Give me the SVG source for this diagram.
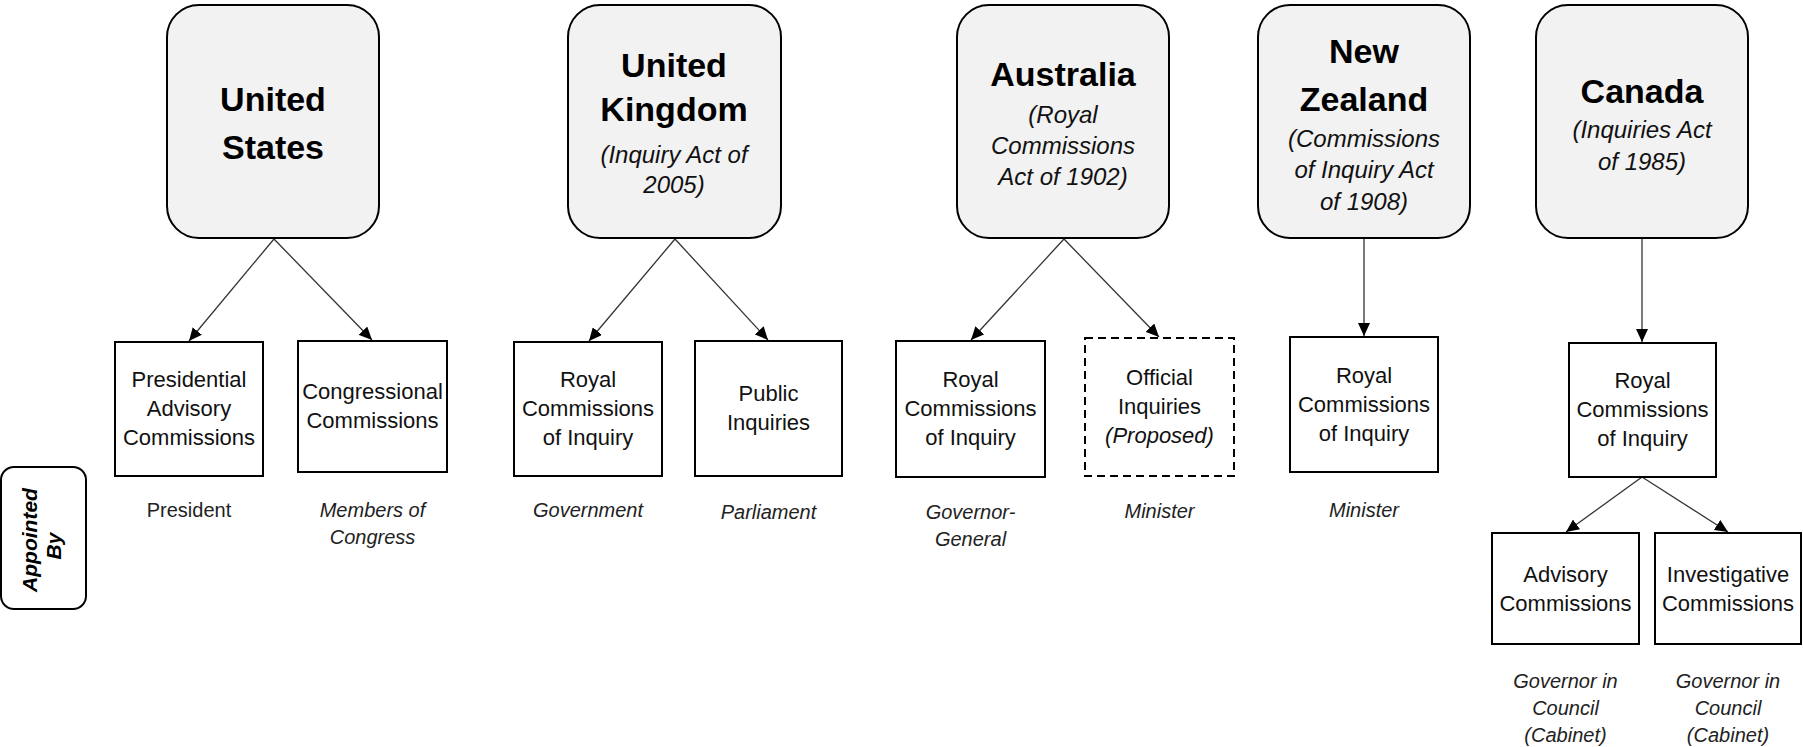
<svg xmlns="http://www.w3.org/2000/svg" width="1803" height="747" viewBox="0 0 1803 747">
<defs>
<style>
text{font-family:"Liberation Sans",Arial,sans-serif;text-anchor:middle;}
.head{fill:#f2f2f2;stroke:#000;stroke-width:2;}
.box{fill:#fff;stroke:#000;stroke-width:2;}
.dash{fill:#fff;stroke:#000;stroke-width:2;stroke-dasharray:8 5;}
.t1{font-size:34px;font-weight:bold;fill:#000;}
.t2{font-size:24px;font-style:italic;fill:#111;}
.t3{font-size:22px;fill:#111;}
.t4{font-size:20px;fill:#222;}
.it{font-style:italic;}
.conn{stroke:#333;stroke-width:1.3;fill:none;marker-end:url(#ah);}
</style>
<marker id="ah" markerWidth="14" markerHeight="12" refX="13" refY="6" orient="auto" markerUnits="userSpaceOnUse">
<path d="M0,0 L13,6 L0,12 Z" fill="#000"/>
</marker>
</defs>
<rect width="1803" height="747" fill="#fff"/>

<g id="connectors">
<line class="conn" x1="274" y1="239" x2="189" y2="341"/>
<line class="conn" x1="274" y1="239" x2="372" y2="340"/>
<line class="conn" x1="675" y1="239" x2="589" y2="341"/>
<line class="conn" x1="675" y1="239" x2="768" y2="340"/>
<line class="conn" x1="1064" y1="239" x2="971" y2="340"/>
<line class="conn" x1="1064" y1="239" x2="1159" y2="337"/>
<line class="conn" x1="1364" y1="239" x2="1364" y2="336"/>
<line class="conn" x1="1642" y1="239" x2="1642" y2="342"/>
<line class="conn" x1="1642" y1="477" x2="1566" y2="532"/>
<line class="conn" x1="1642" y1="477" x2="1728" y2="532"/>
</g>

<g id="us">
<rect class="head" x="167" y="5" width="212" height="233" rx="32"/>
<text class="t1" x="273" y="111">United</text>
<text class="t1" x="273" y="159">States</text>
</g>
<g id="uk">
<rect class="head" x="568" y="5" width="213" height="233" rx="32"/>
<text class="t1" x="674" y="77">United</text>
<text class="t1" x="674" y="121">Kingdom</text>
<text class="t2" x="674" y="163">(Inquiry Act of</text>
<text class="t2" x="674" y="193">2005)</text>
</g>
<g id="australia">
<rect class="head" x="957" y="5" width="212" height="233" rx="32"/>
<text class="t1" x="1063" y="86">Australia</text>
<text class="t2" x="1063" y="123">(Royal</text>
<text class="t2" x="1063" y="154">Commissions</text>
<text class="t2" x="1063" y="185">Act of 1902)</text>
</g>
<g id="newzealand">
<rect class="head" x="1258" y="5" width="212" height="233" rx="32"/>
<text class="t1" x="1364" y="63">New</text>
<text class="t1" x="1364" y="111">Zealand</text>
<text class="t2" x="1364" y="147">(Commissions</text>
<text class="t2" x="1364" y="178">of Inquiry Act</text>
<text class="t2" x="1364" y="210">of 1908)</text>
</g>
<g id="canada">
<rect class="head" x="1536" y="5" width="212" height="233" rx="32"/>
<text class="t1" x="1642" y="103">Canada</text>
<text class="t2" x="1642" y="138">(Inquiries Act</text>
<text class="t2" x="1642" y="170">of 1985)</text>
</g>

<g id="us-presidential">
<rect class="box" x="115" y="342" width="148" height="134"/>
<text class="t3" x="189" y="387">Presidential</text>
<text class="t3" x="189" y="416">Advisory</text>
<text class="t3" x="189" y="445">Commissions</text>
</g>
<g id="us-congressional">
<rect class="box" x="298" y="341" width="149" height="131"/>
<text class="t3" x="372.5" y="399">Congressional</text>
<text class="t3" x="372.5" y="428">Commissions</text>
</g>
<g id="uk-royal">
<rect class="box" x="514" y="342" width="148" height="134"/>
<text class="t3" x="588" y="387">Royal</text>
<text class="t3" x="588" y="416">Commissions</text>
<text class="t3" x="588" y="445">of Inquiry</text>
</g>
<g id="uk-public">
<rect class="box" x="695" y="341" width="147" height="135"/>
<text class="t3" x="768.5" y="401">Public</text>
<text class="t3" x="768.5" y="430">Inquiries</text>
</g>
<g id="au-royal">
<rect class="box" x="896" y="341" width="149" height="136"/>
<text class="t3" x="970.5" y="387">Royal</text>
<text class="t3" x="970.5" y="416">Commissions</text>
<text class="t3" x="970.5" y="445">of Inquiry</text>
</g>
<g id="au-official">
<rect class="dash" x="1085" y="338" width="149" height="138"/>
<text class="t3" x="1159.5" y="385">Official</text>
<text class="t3" x="1159.5" y="414">Inquiries</text>
<text class="t3 it" x="1159.5" y="443">(Proposed)</text>
</g>
<g id="nz-royal">
<rect class="box" x="1290" y="337" width="148" height="135"/>
<text class="t3" x="1364" y="383">Royal</text>
<text class="t3" x="1364" y="412">Commissions</text>
<text class="t3" x="1364" y="441">of Inquiry</text>
</g>
<g id="ca-royal">
<rect class="box" x="1569" y="343" width="147" height="134"/>
<text class="t3" x="1642.5" y="388">Royal</text>
<text class="t3" x="1642.5" y="417">Commissions</text>
<text class="t3" x="1642.5" y="446">of Inquiry</text>
</g>
<g id="ca-advisory">
<rect class="box" x="1492" y="533" width="147" height="111"/>
<text class="t3" x="1565.5" y="582">Advisory</text>
<text class="t3" x="1565.5" y="611">Commissions</text>
</g>
<g id="ca-investigative">
<rect class="box" x="1655" y="533" width="146" height="111"/>
<text class="t3" x="1728" y="582">Investigative</text>
<text class="t3" x="1728" y="611">Commissions</text>
</g>

<g id="appointed-by">
<rect x="1" y="467" width="85" height="142" rx="13" fill="#fff" stroke="#000" stroke-width="2"/>
<text transform="translate(37,540) rotate(-90)" style="font-size:21px;font-weight:bold;font-style:italic;fill:#000">Appointed</text>
<text transform="translate(61,546) rotate(-90)" style="font-size:21px;font-weight:bold;font-style:italic;fill:#000">By</text>
</g>

<g id="appointers">
<text class="t4" x="189" y="517">President</text>
<text class="t4 it" x="372.5" y="517">Members of</text>
<text class="t4 it" x="372.5" y="544">Congress</text>
<text class="t4 it" x="588" y="517">Government</text>
<text class="t4 it" x="768.5" y="519">Parliament</text>
<text class="t4 it" x="970.5" y="519">Governor-</text>
<text class="t4 it" x="970.5" y="546">General</text>
<text class="t4 it" x="1159.5" y="518">Minister</text>
<text class="t4 it" x="1364" y="517">Minister</text>
<text class="t4 it" x="1565.5" y="688">Governor in</text>
<text class="t4 it" x="1565.5" y="715">Council</text>
<text class="t4 it" x="1565.5" y="742">(Cabinet)</text>
<text class="t4 it" x="1728" y="688">Governor in</text>
<text class="t4 it" x="1728" y="715">Council</text>
<text class="t4 it" x="1728" y="742">(Cabinet)</text>
</g>
</svg>
